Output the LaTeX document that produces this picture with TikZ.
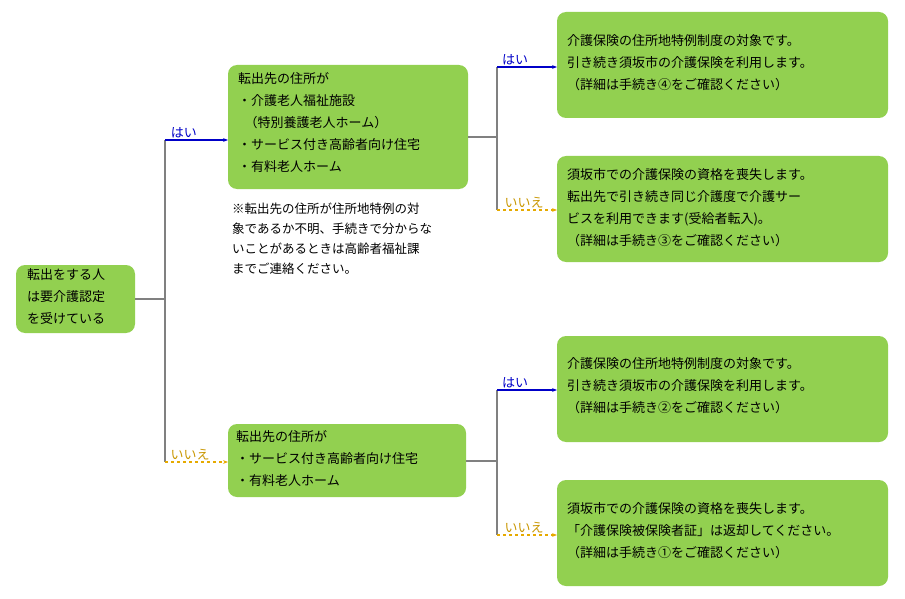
\documentclass[tikz,border=0pt]{standalone}
\usepackage{fontspec}
\setmainfont{Noto Sans CJK JP}
\usetikzlibrary{arrows.meta}
\definecolor{gbox}{RGB}{146,208,80}
\definecolor{gline}{RGB}{128,128,128}
\definecolor{bline}{RGB}{0,0,200}
\definecolor{yline}{RGB}{230,170,0}
\definecolor{ytext}{RGB}{200,150,0}
\begin{document}
\begin{tikzpicture}[x=1pt,y=-1pt,
  box/.style={fill=gbox,rounded corners=9pt,draw=none},
  txt/.style={align=left,anchor=north west,inner sep=0,font=\fontsize{13}{22}\selectfont},
  gl/.style={draw=gline,line width=1.5pt},
  yes/.style={draw=bline,line width=1.5pt,-{Stealth[length=5pt]}},
  no/.style={draw=yline,line width=1.5pt,dashed,-{Stealth[length=5pt]}},
  ylab/.style={text=bline,font=\fontsize{13}{13}\selectfont,anchor=south,inner sep=1pt},
  nlab/.style={text=ytext,font=\fontsize{13}{13}\selectfont,anchor=south,inner sep=1pt}]
\useasboundingbox (0,0) rectangle (905,599);
\fill[box] (16,265) rectangle (135,333);
\node[txt] (A) at (27,268) {転出をする人\\は要介護認定\\を受けている};
\coordinate (Ar) at (135,299);
\fill[box] (228,65) rectangle (468,189);
\node[txt] (B) at (238,72) {転出先の住所が\\・介護老人福祉施設\\\hspace{0.5em}（特別養護老人ホーム）\\・サービス付き高齢者向け住宅\\・有料老人ホーム};
\node[txt,font=\fontsize{12.5}{20}\selectfont] (N) at (232,203) {※転出先の住所が住所地特例の対\\象であるか不明、手続きで分からな\\いことがあるときは高齢者福祉課\\までご連絡ください。};
\fill[box] (228,424) rectangle (466,497);
\node[txt] (C) at (236,430) {転出先の住所が\\・サービス付き高齢者向け住宅\\・有料老人ホーム};
\fill[box] (557,12) rectangle (888,118);
\node[txt] (D1) at (567,34) {介護保険の住所地特例制度の対象です。\\引き続き須坂市の介護保険を利用します。\\（詳細は手続き④をご確認ください）};
\fill[box] (557,156) rectangle (888,262);
\node[txt] (D2) at (567,168) {須坂市での介護保険の資格を喪失します。\\転出先で引き続き同じ介護度で介護サー\\ビスを利用できます(受給者転入)。\\（詳細は手続き③をご確認ください）};
\fill[box] (557,336) rectangle (888,442);
\node[txt] (D3) at (567,357) {介護保険の住所地特例制度の対象です。\\引き続き須坂市の介護保険を利用します。\\（詳細は手続き②をご確認ください）};
\fill[box] (557,480) rectangle (888,586);
\node[txt] (D4) at (567,502) {須坂市での介護保険の資格を喪失します。\\「介護保険被保険者証」は返却してください。\\（詳細は手続き①をご確認ください）};
% junctions
\coordinate (J1) at (165,299);
\coordinate (J1a) at (165,140);
\coordinate (J1b) at (165,462);
\coordinate (Bl) at (228,140);
\coordinate (Cl) at (228,462);
\coordinate (Br) at (468,137);
\coordinate (J2) at (497,137);
\coordinate (J2a) at (497,67);
\coordinate (J2b) at (497,210);
\coordinate (D1l) at (557,67);
\coordinate (D2l) at (557,210);
\coordinate (Cr) at (466,461);
\coordinate (J3) at (497,461);
\coordinate (J3a) at (497,390);
\coordinate (J3b) at (497,535);
\coordinate (D3l) at (557,390);
\coordinate (D4l) at (557,535);
\draw[gl] (Ar) -- (J1);
\draw[gl] (J1a) -- (J1b);
\draw[yes] (J1a) -- (Bl) node[ylab,pos=0.3] {はい};
\draw[no] (J1b) -- (Cl) node[nlab,pos=0.4] {いいえ};
\draw[gl] (Br) -- (J2);
\draw[gl] (J2a) -- (J2b);
\draw[yes] (J2a) -- (D1l) node[ylab,pos=0.3] {はい};
\draw[no] (J2b) -- (D2l) node[nlab,pos=0.45] {いいえ};
\draw[gl] (Cr) -- (J3);
\draw[gl] (J3a) -- (J3b);
\draw[yes] (J3a) -- (D3l) node[ylab,pos=0.3] {はい};
\draw[no] (J3b) -- (D4l) node[nlab,pos=0.45] {いいえ};
\end{tikzpicture}
\end{document}
